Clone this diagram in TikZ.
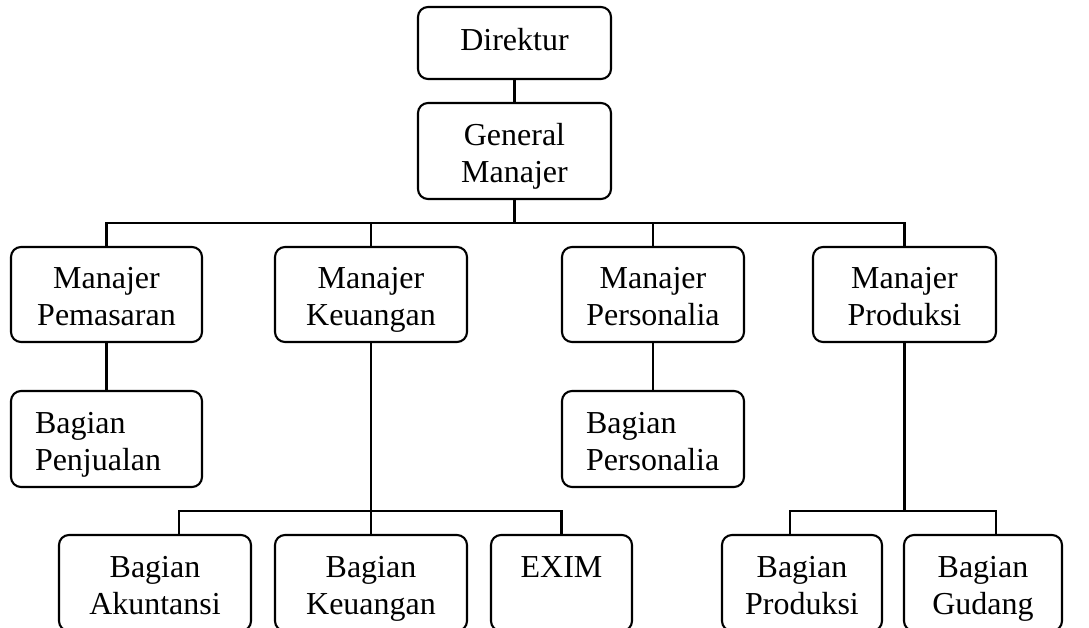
\documentclass[tikz,border=0pt]{standalone}
\usepackage{fontspec}
\setmainfont{Liberation Serif}
\newcommand\atas{\rule{0pt}{19pt}}
\newcommand\bawah{\rule[-4.3pt]{0pt}{4.3pt}}
\newcommand\dua[2]{\atas#1\\#2\bawah}

\begin{document}
\begin{tikzpicture}[
    kotak/.style={draw, rounded corners=0.2cm, line width=1.2pt, align=center,
                  minimum height=1.92cm, font=\fontsize{18.2}{21}\selectfont},
    kiri/.style={kotak, align=left, text width=2.86cm, inner xsep=0.48cm},
    garis/.style={line width=1.2pt}]
          \useasboundingbox (0,0) rectangle (21.78,-12.56);
          \clip (0,0) rectangle (21.78,-12.56);

          \node[kotak, minimum width=3.86cm, minimum height=1.44cm,
                text height=0.55cm, text depth=0.23cm] (dir) at (10.29,-0.86) {Direktur};
          \node[kotak, minimum width=3.86cm] (gm) at (10.29,-3.02) {\dua{General}{Manajer}};

          \node[kotak, minimum width=3.82cm, minimum height=1.9cm] (mpem) at (2.13,-5.89) {\dua{Manajer}{Pemasaran}};
          \node[kotak, minimum width=3.84cm, minimum height=1.9cm] (mku)  at (7.42,-5.89) {\dua{Manajer}{Keuangan}};
          \node[kotak, minimum width=3.64cm, minimum height=1.9cm] (mper) at (13.06,-5.89) {\dua{Manajer}{Personalia}};
          \node[kotak, minimum width=3.66cm, minimum height=1.9cm] (mpro) at (18.09,-5.89) {\dua{Manajer}{Produksi}};

          \node[kiri] (bpen) at (2.13,-8.78) {\dua{Bagian}{Penjualan}};
          \node[kiri, text width=2.68cm] (bper) at (13.06,-8.78) {\dua{Bagian}{Personalia}};

          \node[kotak, minimum width=3.84cm] (bak)  at (3.10,-11.66) {\dua{Bagian}{Akuntansi}};
          \node[kotak, minimum width=3.84cm] (bku)  at (7.42,-11.66) {\dua{Bagian}{Keuangan}};
          \node[kotak, minimum width=2.82cm] (exim) at (11.23,-11.66) {\dua{EXIM}{}};
          \node[kotak, minimum width=3.20cm] (bpro) at (16.04,-11.66) {\dua{Bagian}{Produksi}};
          \node[kotak, minimum width=3.16cm] (bgu)  at (19.66,-11.66) {\dua{Bagian}{Gudang}};

          \coordinate (bus)  at (10.29,-4.46);
          \coordinate (subk) at (7.42,-10.22);
          \coordinate (k1)   at (3.58,-10.22);
          \coordinate (subp) at (18.09,-10.22);
          \coordinate (p1)   at (15.80,-10.22);
          \coordinate (p2)   at (19.92,-10.22);

          \draw[garis] (dir) -- (gm);
          \draw[garis] (gm) -- (bus);
          \draw[garis] (mpem.north) |- (bus) -| (mpro.north);
          \draw[garis] (mku.north) -- (mku.north |- bus);
          \draw[garis] (mper.north) -- (mper.north |- bus);

          \draw[garis] (mpem) -- (bpen);
          \draw[garis] (mper) -- (bper);

          \draw[garis] (mku) -- (bku);
          \draw[garis] (k1 |- bak.north) -- (k1) -- (subk) -| (exim.north);
          \draw[garis] (mpro) -- (subp);
          \draw[garis] (p1 |- bpro.north) -- (p1) -- (p2) -- (p2 |- bgu.north);
        \end{tikzpicture}
\end{document}
